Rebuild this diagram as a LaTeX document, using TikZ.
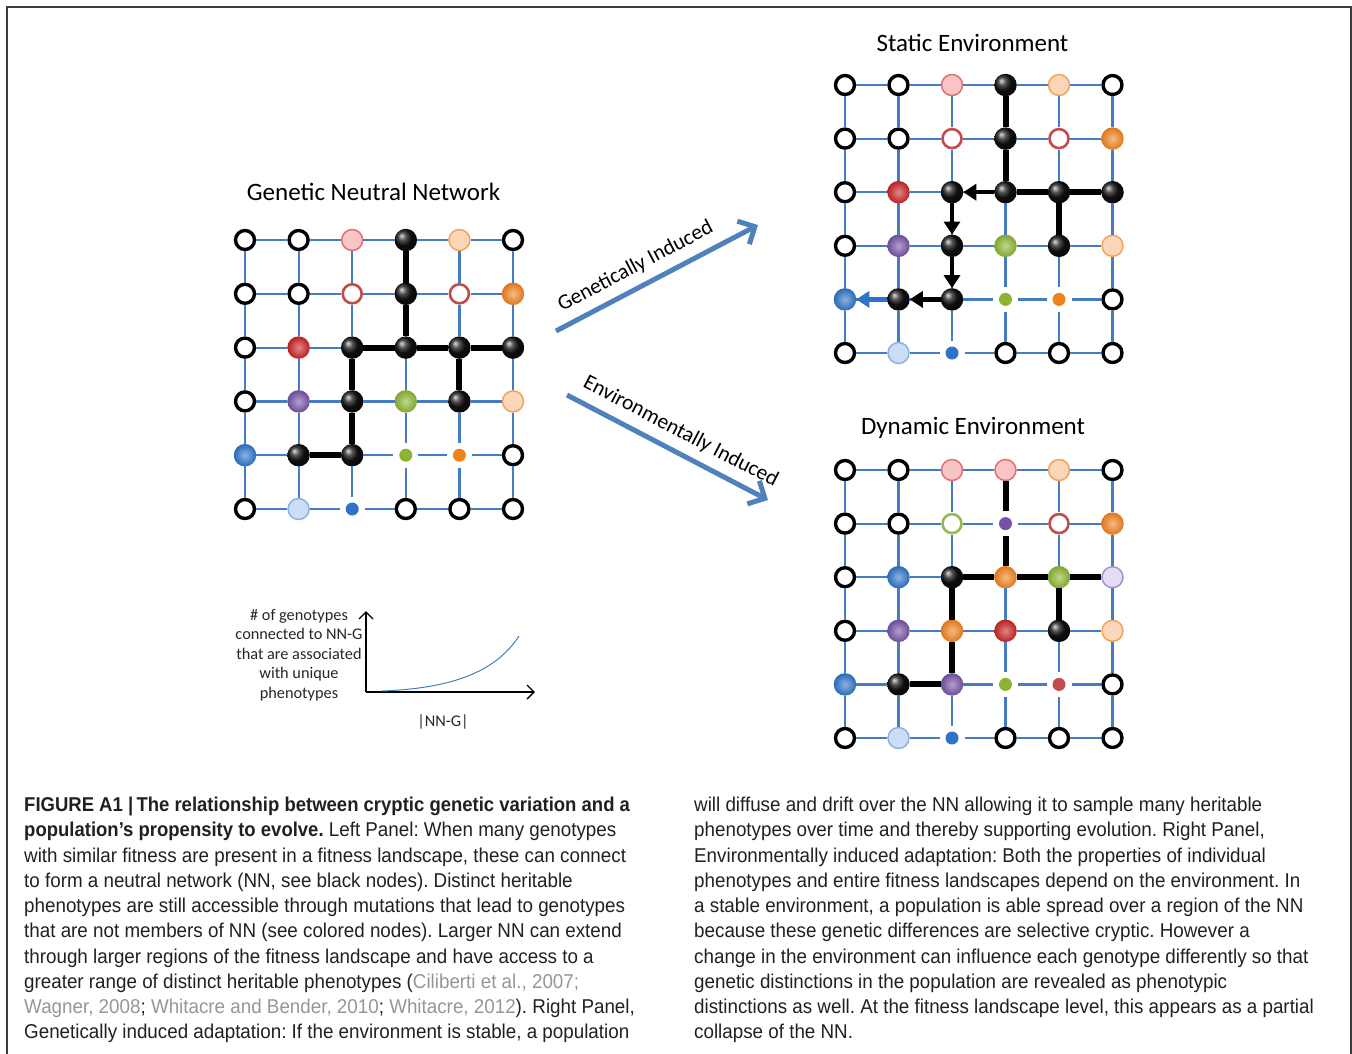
\documentclass[tikz,border=0pt]{standalone}
\usepackage{fontspec}
\setmainfont{Carlito}
\newfontfamily\capfont[FakeStretch=0.94, BoldFeatures={FakeStretch=0.925}]{Liberation Sans}
\usetikzlibrary{positioning,arrows.meta,calc}

\definecolor{edgeblue}{RGB}{70,124,196}
\definecolor{arrowblue}{RGB}{79,129,189}
\definecolor{pinkfill}{RGB}{248,196,198}
\definecolor{pinkline}{RGB}{222,112,112}
\definecolor{peachfill}{RGB}{251,214,184}
\definecolor{peachline}{RGB}{244,164,90}
\definecolor{ringred}{RGB}{196,76,72}
\definecolor{ringgreen}{RGB}{150,186,80}
\definecolor{ballorange}{RGB}{240,130,30}
\definecolor{ballred}{RGB}{200,35,35}
\definecolor{ballpurple}{RGB}{118,82,165}
\definecolor{ballgreen}{RGB}{140,180,50}
\definecolor{ballblue}{RGB}{45,115,200}
\definecolor{ltbluefill}{RGB}{204,222,246}
\definecolor{ltblueline}{RGB}{140,178,228}
\definecolor{ltpurfill}{RGB}{228,220,242}
\definecolor{ltpurline}{RGB}{165,145,205}
\definecolor{citegray}{RGB}{150,150,150}
\definecolor{captext}{RGB}{35,31,32}
\definecolor{framegray}{RGB}{60,60,60}

\tikzset{
  ring/.style={circle, inner sep=0pt, minimum size=19pt, line width=3.4pt, fill=white, outer sep=1.7pt},
  ball/.style={circle, inner sep=0pt, minimum size=22.5pt, outer sep=0pt,
    shading=radial, inner color=#1!55!white, outer color=#1!92!black},
  soft/.style={circle, inner sep=0pt, minimum size=21pt, line width=1.5pt, outer sep=0.75pt},
  dot/.style={circle, inner sep=0pt, minimum size=13pt, outer sep=6pt},
  nempty/.style={ring, draw=black},
  nredring/.style={ring, draw=ringred, line width=2.6pt},
  ngreenring/.style={ring, draw=ringgreen, line width=2.6pt},
  nblack/.style={circle, inner sep=0pt, minimum size=22.5pt, outer sep=0pt, ball color=black!92},
  norange/.style={ball=ballorange},
  nred/.style={ball=ballred},
  npurple/.style={ball=ballpurple},
  ngreen/.style={ball=ballgreen},
  nblue/.style={ball=ballblue},
  npink/.style={soft, draw=pinkline, fill=pinkfill},
  npeach/.style={soft, draw=peachline, fill=peachfill},
  nltblue/.style={soft, draw=ltblueline, fill=ltbluefill},
  nltpurple/.style={soft, draw=ltpurline, fill=ltpurfill},
  dgreen/.style={dot, fill=ballgreen},
  dorange/.style={dot, fill=ballorange},
  dblue/.style={dot, fill=ballblue},
  dpurple/.style={dot, fill=ballpurple},
  dred/.style={dot, fill=ringred},
  gridedge/.style={edgeblue, line width=2.2pt},
  nnedge/.style={black, line width=6pt},
  walk/.style={black, line width=4.5pt, -{Triangle[length=13pt, width=16pt]}},
  bluewalk/.style={ballblue, line width=4.5pt, -{Triangle[length=13pt, width=16pt]}},
  bigarrow/.style={arrowblue, line width=5pt, -{Straight Barb[length=13pt, width=26pt]}},
  axis/.style={black, line width=1.4pt, -{Straight Barb[length=7pt, width=14pt]}},
  title/.style={font=\fontsize{25}{30}\selectfont},
  slant/.style={font=\fontsize{21.5}{26}\selectfont, sloped, text=black},
  plottext/.style={font=\fontsize{16.3}{19.5}\selectfont, text=black!85}
}

\begin{document}
\begin{tikzpicture}[x=1pt, y=-1pt]
  \useasboundingbox (0,0) rectangle (1352,1053);
  \draw[framegray, line width=1.3pt] (7,1060) -- (7,7) -- (1351,7) -- (1351,1060);

  % left panel: genetic neutral network
  \node[title] (gtitle) at (373.5,192) {Genetic Neutral Network};
  \foreach \st [count=\i from 0] in {nempty,nempty,npink,nblack,npeach,nempty,
      nempty,nempty,nredring,nblack,nredring,norange,
      nempty,nred,nblack,nblack,nblack,nblack,
      nempty,npurple,nblack,ngreen,nblack,npeach,
      nblue,nblack,nblack,dgreen,dorange,nempty,
      nempty,nltblue,dblue,nempty,nempty,nempty}{
    \pgfmathtruncatemacro{\r}{\i/6}
    \pgfmathtruncatemacro{\c}{mod(\i,6)}
    \node[\st] (g-\r-\c) at (245+53.6*\c, 240+53.8*\r) {};
  }

  % right panel: static environment
  \node[title] (stitle) at (972.5,43) {Static Environment};
  \foreach \st [count=\i from 0] in {nempty,nempty,npink,nblack,npeach,nempty,
      nempty,nempty,nredring,nblack,nredring,norange,
      nempty,nred,nblack,nblack,nblack,nblack,
      nempty,npurple,nblack,ngreen,nblack,npeach,
      nblue,nblack,nblack,dgreen,dorange,nempty,
      nempty,nltblue,dblue,nempty,nempty,nempty}{
    \pgfmathtruncatemacro{\r}{\i/6}
    \pgfmathtruncatemacro{\c}{mod(\i,6)}
    \node[\st] (s-\r-\c) at (845+53.5*\c, 85+53.6*\r) {};
  }

  % right panel: dynamic environment
  \node[title] (dtitle) at (973,428) {Dynamic Environment};
  \foreach \st [count=\i from 0] in {nempty,nempty,npink,npink,npeach,nempty,
      nempty,nempty,ngreenring,dpurple,nredring,norange,
      nempty,nblue,nblack,norange,ngreen,nltpurple,
      nempty,npurple,norange,nred,nblack,npeach,
      nblue,nblack,npurple,dgreen,dred,nempty,
      nempty,nltblue,dblue,nempty,nempty,nempty}{
    \pgfmathtruncatemacro{\r}{\i/6}
    \pgfmathtruncatemacro{\c}{mod(\i,6)}
    \node[\st] (d-\r-\c) at (845+53.5*\c, 470+53.6*\r) {};
  }

  % blue mutation edges
  \foreach \g in {g,s,d}{
    \foreach \r in {0,...,5}{
      \foreach \c [evaluate=\c as \n using int(\c+1)] in {0,...,4}{
        \draw[gridedge] (\g-\r-\c) -- (\g-\r-\n);
        \draw[gridedge] (\g-\c-\r) -- (\g-\n-\r);
      }
    }
  }

  % neutral network
  \foreach \g in {g,d}{
    \foreach \a/\b in {0-3/1-3, 1-3/2-3, 2-2/2-3, 2-3/2-4, 2-4/2-5,
                       2-2/3-2, 3-2/4-2, 4-1/4-2, 2-4/3-4}
      \draw[nnedge] (\g-\a) -- (\g-\b);
  }
  \foreach \a/\b in {0-3/1-3, 1-3/2-3, 2-3/2-4, 2-4/2-5, 2-4/3-4}
    \draw[nnedge] (s-\a) -- (s-\b);
  \foreach \a/\b in {2-3/2-2, 2-2/3-2, 3-2/4-2, 4-2/4-1}
    \draw[walk] (s-\a) -- (s-\b);
  \draw[bluewalk] (s-4-1) -- (s-4-0);

  % arrows between panels
  \coordinate (gstart) at (556,331);
  \coordinate (gend) at (758,225);
  \coordinate (estart) at (567,395);
  \coordinate (eend) at (768,500);
  \draw[bigarrow] (gstart) -- node[slant, above=5pt, pos=0.44] (glabel) {Genetically Induced} (gend);
  \draw[bigarrow] (estart) -- node[slant, above=5pt, pos=0.52] (elabel) {Environmentally Induced} (eend);

  % inset plot
  \coordinate (origin) at (366,692);
  \coordinate (ytip) at (366,611);
  \coordinate (xtip) at (535,692);
  \coordinate (cstart) at (382,691);
  \coordinate (cend) at (519,636);
  \draw[axis] (origin) -- (ytip);
  \draw[axis] (origin) -- (xtip);
  \draw[edgeblue, line width=1pt] (cstart) .. controls (460,688) and (498,668) .. (cend);
  \node[plottext, align=center] (ylabel) at (299,655)
    {\# of genotypes\\connected to NN-G\\that are associated\\with unique\\phenotypes};
  \node[plottext] (xlabel) at (443,722) {|NN-G|};

  % caption
  \node[anchor=north west, inner sep=0pt, align=left, text=captext,
        font=\capfont\fontsize{20}{25.25}\selectfont\frenchspacing] (capleft) at (24,797)
    {\textbf{FIGURE A1 |\,The relationship between cryptic genetic variation and a}\\
     \textbf{population’s propensity to evolve.} Left Panel: When many genotypes\\
     with similar fitness are present in a fitness landscape, these can connect\\
     to form a neutral network (NN, see black nodes). Distinct heritable\\
     phenotypes are still accessible through mutations that lead to genotypes\\
     that are not members of NN (see colored nodes). Larger NN can extend\\
     through larger regions of the fitness landscape and have access to a\\
     greater range of distinct heritable phenotypes (\textcolor{citegray}{Ciliberti et al., 2007;}\\
     \textcolor{citegray}{Wagner, 2008}; \textcolor{citegray}{Whitacre and Bender, 2010}; \textcolor{citegray}{Whitacre, 2012}). Right Panel,\\
     Genetically induced adaptation: If the environment is stable, a population};
  \node[anchor=north west, inner sep=0pt, align=left, text=captext,
        font=\capfont\fontsize{20}{25.25}\selectfont\frenchspacing] (capright) at (694,797)
    {will diffuse and drift over the NN allowing it to sample many heritable\\
     phenotypes over time and thereby supporting evolution. Right Panel,\\
     Environmentally induced adaptation: Both the properties of individual\\
     phenotypes and entire fitness landscapes depend on the environment. In\\
     a stable environment, a population is able spread over a region of the NN\\
     because these genetic differences are selective cryptic. However a\\
     change in the environment can influence each genotype differently so that\\
     genetic distinctions in the population are revealed as phenotypic\\
     distinctions as well. At the fitness landscape level, this appears as a partial\\
     collapse of the NN.};
\end{tikzpicture}
\end{document}
